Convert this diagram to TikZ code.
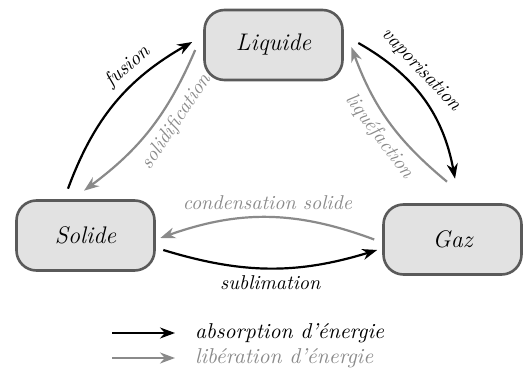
\documentclass[tikz,border=0pt]{standalone}
\usetikzlibrary{arrows.meta,positioning}

\definecolor{boxfill}{HTML}{E2E2E2}
\definecolor{boxline}{HTML}{5A5A5A}
\definecolor{relgray}{HTML}{8A8A8A}

\begin{document}
\begin{tikzpicture}[
  x=0.5pt, y=0.5pt,
  font=\itshape,
  etat/.style={
    draw=boxline,
    line width=1.3pt,
    fill=boxfill,
    rounded corners=10pt,
    minimum width=69pt,
    minimum height=35pt,
    font=\large\itshape
  },
  absorb/.style={-{Stealth[length=7.5pt,width=5.5pt]}, line width=1.1pt, draw=black},
  libere/.style={-{Stealth[length=7.5pt,width=5.5pt]}, line width=1.1pt, draw=relgray},
  lbl/.style={font=\itshape, text=black},
  lblgris/.style={font=\itshape, text=relgray},
  leg/.style={anchor=west, font=\fontsize{10.75}{13}\selectfont\itshape}
]
\useasboundingbox (0,0) rectangle (528,374);

\node[etat] (liq) at (273.5,329) {Liquide};
\node[etat] (sol) at (85.5,138.5) {Solide};
\node[etat] (gaz) at (452.5,134.5) {Gaz};

% solide <-> liquide
\draw[absorb] ([shift={(-17.5,10.5)}]sol.north) to[bend left=20]
  node[lbl, sloped, above, pos=0.68] {fusion} ([shift={(-11,3)}]liq.west);
\draw[libere] ([shift={(-8,-5)}]liq.west) to[bend left=15]
  node[lblgris, sloped, below, pos=0.38] {solidification} ([shift={(-1.5,8.5)}]sol.north);

% liquide <-> gaz
\draw[absorb] ([shift={(14.5,2)}]liq.east) to[bend left=25]
  node[lbl, sloped, above, pos=0.36] {vaporisation} ([shift={(2.5,24.5)}]gaz.north);
\draw[libere] ([shift={(-5.5,21.5)}]gaz.north) to[bend left=15]
  node[lblgris, sloped, below, pos=0.46] {liquéfaction} ([shift={(7.5,-2)}]liq.east);

% solide <-> gaz
\draw[libere] ([shift={(-8,0)}]gaz.west) to[bend right=20]
  node[lblgris, above] {condensation solide} ([shift={(4.5,-2.5)}]sol.east);
\draw[absorb] ([shift={(7.5,-14.5)}]sol.east) to[bend right=17]
  node[lbl, below] {sublimation} ([shift={(-5,-10.5)}]gaz.west);

% legende
\node[leg] (absorp) at (188,41) {absorption d'énergie};
\node[leg, text=relgray] (libera) at (188,16) {libération d'énergie};
\coordinate (absdeb) at (112,41);
\coordinate (libdeb) at (112,16);
\draw[absorb, shorten >=6.5pt] (absdeb) -- (absorp.west);
\draw[libere, shorten >=6.5pt] (libdeb) -- (libera.west);

\end{tikzpicture}
\end{document}
